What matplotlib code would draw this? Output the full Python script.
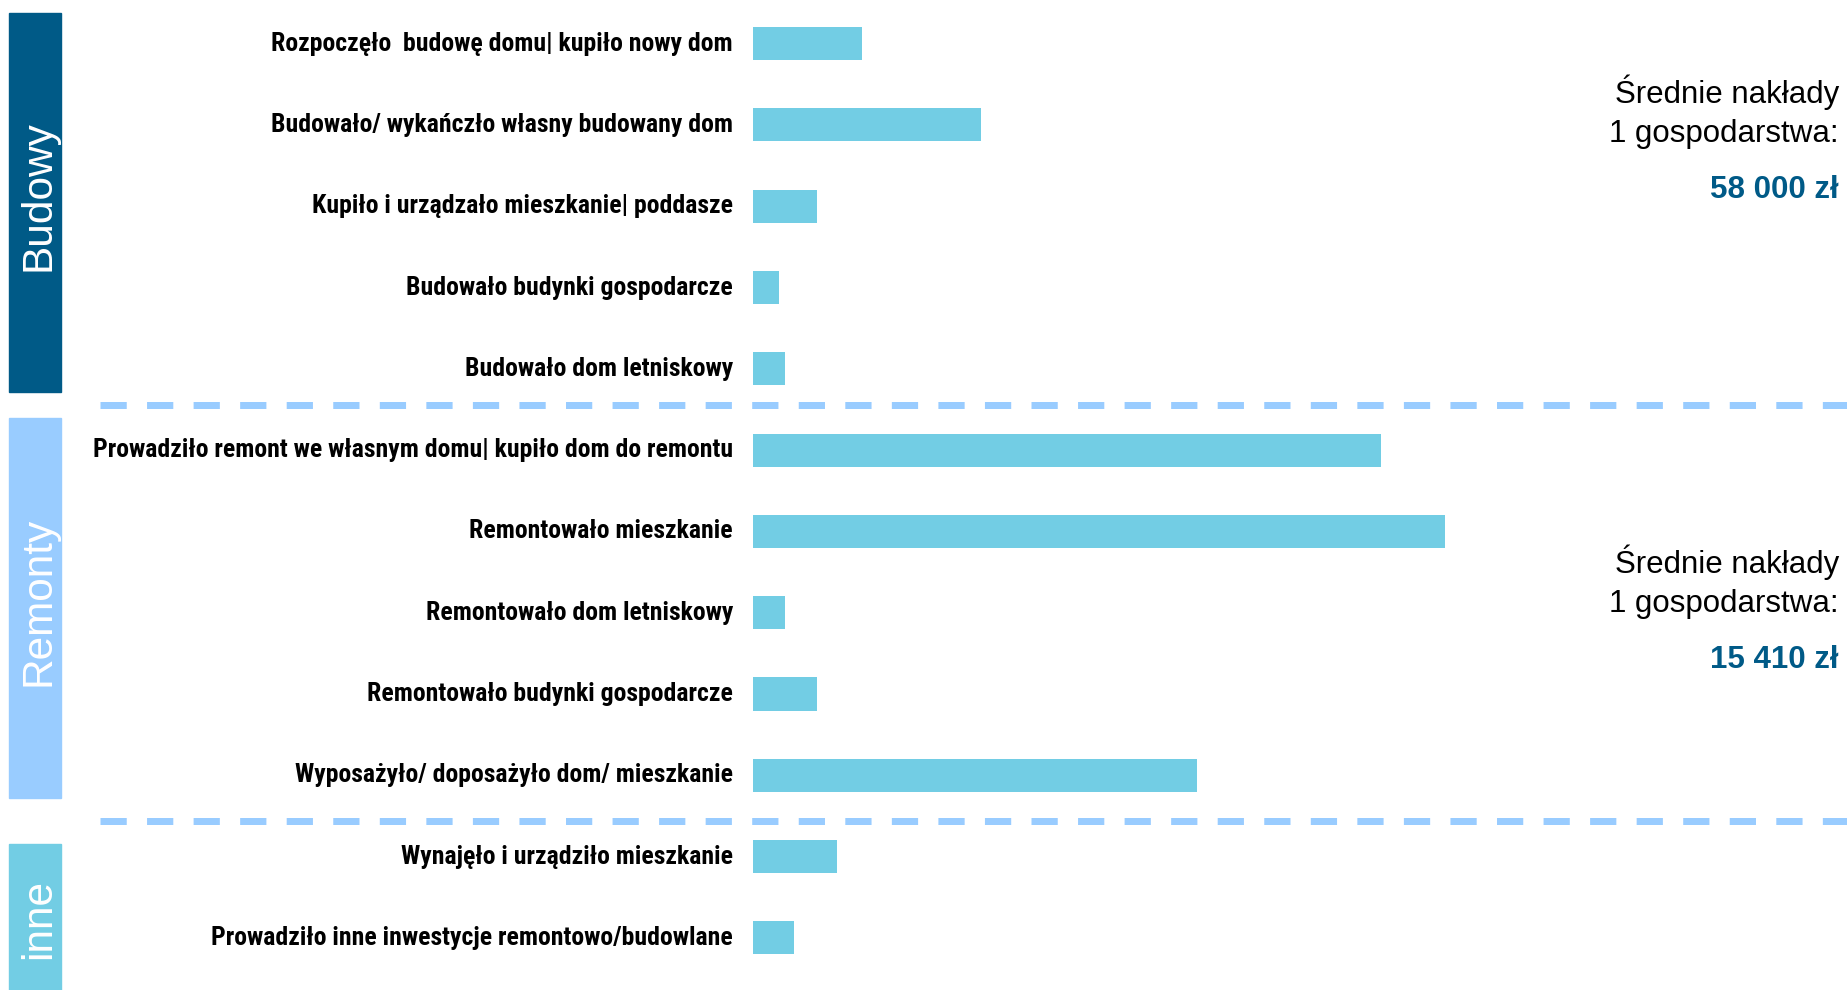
import matplotlib
matplotlib.use('Agg')
import matplotlib.pyplot as plt
from matplotlib.patches import Rectangle

# dane
kategorie = ['Rozpoczęło  budowę domu| kupiło nowy dom',
             'Budowało/ wykańczło własny budowany dom',
             'Kupiło i urządzało mieszkanie| poddasze',
             'Budowało budynki gospodarcze',
             'Budowało dom letniskowy',
             'Prowadziło remont we własnym domu| kupiło dom do remontu',
             'Remontowało mieszkanie',
             'Remontowało dom letniskowy',
             'Remontowało budynki gospodarcze',
             'Wyposażyło/ doposażyło dom/ mieszkanie',
             'Wynajęło i urządziło mieszkanie',
             'Prowadziło inne inwestycje remontowo/budowlane']
wartosci = [8.5, 17.8, 5.0, 2.0, 2.5, 49.1, 54.1, 2.5, 5.0, 34.7, 6.6, 3.2]

grupy = ['Budowy', 'Remonty', 'inne']
naklady = ['58 000 zł', '15 410 zł']

W, H = 1847, 990
C_BAR = '#72CDE4'
C_DARK = '#005A87'
C_LIGHT = '#99CCFF'


def fx(px):
    return px / W


def fy(py):
    # piksele od gory -> wspolrzedne figury
    return 1 - py / H


fig = plt.figure(figsize=(W / 100, H / 100), dpi=100)

# os z slupkami: od x=753 px do prawej krawedzi, 12.8 px na 1 jednostke
ax = fig.add_axes([fx(753), 0, fx(W - 753), 1])
ax.set_xlim(0, (W - 753) / 12.8)
ax.set_ylim((H - 43.6) / 81.3, -43.6 / 81.3)
pos = list(range(len(kategorie)))
ax.barh(pos, wartosci, height=0.406, color=C_BAR)
ax.set_yticks(pos)
ax.set_yticklabels(kategorie, fontfamily='Roboto Condensed', fontweight='bold',
                   fontsize=18.5, color='black', va='center')
ax.tick_params(axis='y', length=0, pad=14.4)
ax.tick_params(axis='x', bottom=False, labelbottom=False)
for s in ax.spines.values():
    s.set_visible(False)
ax.patch.set_alpha(0)

# przerywane linie miedzy grupami
x0 = (100 - 753) / (W - 753)
for yl in [4.45, 9.56]:
    ln = ax.axhline(yl, xmin=x0, xmax=1, color=C_LIGHT, lw=5.04, clip_on=False)
    ln.set_dashes([3.75, 2.9])

# panele z nazwami grup
panele = [(13, 392, C_DARK, 196), (418, 798, C_LIGHT, 601), (844, 1000, C_BAR, 919)]
for (top, bot, col, yc), nazwa in zip(panele, grupy):
    fig.patches.append(Rectangle((fx(9), fy(bot)), fx(52), fy(top) - fy(bot),
                                 transform=fig.transFigure, color=col, zorder=0))
    fig.text(fx(39), fy(yc), nazwa, rotation=90,
             ha='center', va='center', color='white', fontsize=30.5,
             family='Liberation Sans')

# srednie naklady
for y0, kwota in zip([103, 573], naklady):
    fig.text(fx(1839), fy(y0), 'Średnie nakłady', ha='right', va='baseline',
             fontsize=22.5, family='Liberation Sans')
    fig.text(fx(1839), fy(y0 + 39), '1 gospodarstwa:', ha='right', va='baseline',
             fontsize=22.5, family='Liberation Sans')
    fig.text(fx(1839), fy(y0 + 95), kwota, ha='right', va='baseline',
             fontsize=22.5, family='Liberation Sans', fontweight='bold', color=C_DARK)

fig.savefig('out.png', dpi=100)
